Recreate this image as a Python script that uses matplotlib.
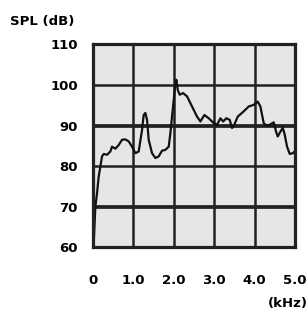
import matplotlib.pyplot as plt
import numpy as np

# frequency response
freq_khz = [0.017, 0.058, 0.099, 0.140, 0.182, 0.223, 0.264, 0.347, 0.429, 0.470,
            0.553, 0.635, 0.718, 0.800, 0.883, 0.965, 1.048, 1.130, 1.213, 1.254,
            1.295, 1.337, 1.378, 1.460, 1.543, 1.625, 1.708, 1.790, 1.873, 1.914,
            1.955, 1.997, 2.038, 2.063, 2.096, 2.145, 2.228, 2.327, 2.450, 2.574,
            2.657, 2.756, 2.863, 2.987, 3.069, 3.152, 3.218, 3.300, 3.383, 3.441,
            3.482, 3.581, 3.729, 3.853, 3.977, 4.076, 4.142, 4.224, 4.307, 4.406,
            4.472, 4.530, 4.571, 4.637, 4.695, 4.736, 4.802, 4.868, 4.950, 4.983]
spl_db = [61.0, 70.0, 73.3, 77.4, 79.9, 82.4, 83.0, 82.8, 83.6, 84.8,
          84.3, 85.2, 86.5, 86.6, 86.1, 84.8, 83.2, 83.6, 88.9, 92.6,
          93.1, 91.4, 86.5, 83.2, 82.0, 82.4, 83.8, 84.0, 84.8, 88.1,
          92.2, 96.3, 100.5, 101.3, 98.8, 97.6, 98.0, 97.2, 94.7, 92.2,
          91.0, 92.6, 91.8, 90.6, 90.2, 91.8, 91.0, 91.8, 91.4, 89.4,
          89.9, 92.2, 93.5, 94.7, 95.1, 95.9, 94.7, 90.6, 89.9, 90.4,
          90.8, 88.5, 87.3, 88.5, 89.4, 88.1, 84.8, 83.0, 83.2, 83.6]

xticks = [0, 1, 2, 3, 4, 5]
xlabels = ["0", "1.0", "2.0", "3.0", "4.0", "5.0"]
yticks = [60, 70, 80, 90, 100, 110]
heavy = [70, 90]

ink = "#222222"
font = dict(family="DejaVu Sans", weight="bold", size=9.5)

fig = plt.figure(figsize=(3.08, 3.15), dpi=100)
ax = fig.add_axes([0.302, 0.215, 0.656, 0.644])
ax.set_facecolor("#e6e6e6")

for v in xticks[1:-1]:
    ax.axvline(v, color=ink, lw=1.8, zorder=1)
for v in yticks[1:-1]:
    ax.axhline(v, color=ink, lw=2.7 if v in heavy else 1.8, zorder=1)

ax.plot(freq_khz, spl_db, color="#111111", lw=1.6, zorder=3)

ax.set_xlim(0, 5)
ax.set_ylim(60, 110)
ax.set_xticks(xticks)
ax.set_xticklabels(xlabels, **font)
ax.set_yticks(yticks)
ax.set_yticklabels([str(v) for v in yticks], **font)
ax.tick_params(axis="both", length=0)
ax.tick_params(axis="x", pad=19)
ax.tick_params(axis="y", pad=11)

for s in ax.spines.values():
    s.set_linewidth(2.3)
    s.set_color(ink)
    s.set_zorder(4)

fig.text(10 / 308, 1 - 22 / 315, "SPL (dB)", ha="left", va="center", **font)
fig.text(1.0, 1 - 304 / 315, "(kHz)", ha="right", va="center", **font)

fig.savefig("out.png", dpi=100)
